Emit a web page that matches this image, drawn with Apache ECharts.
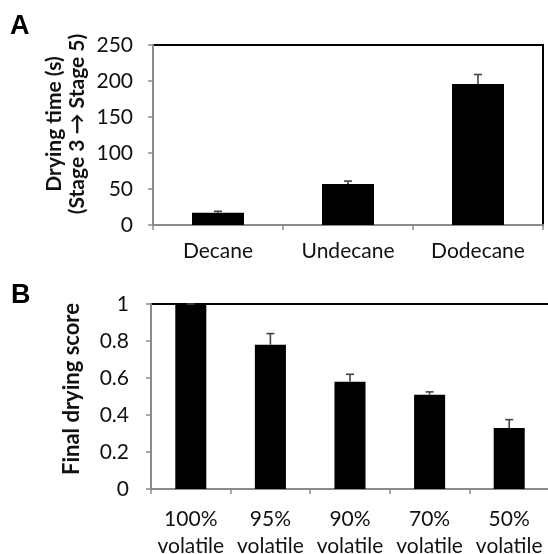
<!DOCTYPE html>
<html>
<head>
<meta charset="utf-8">
<script src="https://cdn.jsdelivr.net/npm/echarts@6/dist/echarts.min.js"></script>
<style>
  html, body { margin: 0; padding: 0; background: #fff; }
  #main { width: 548px; height: 554px; }
</style>
</head>
<body>
<div id="main"></div>
<script>
// panel A - drying time per solvent
var solvents = ['Decane', 'Undecane', 'Dodecane']
var dryingTime = [17, 57, 196]
var dryingErr = [2, 4, 13]
var timeTicks = [0, 50, 100, 150, 200, 250]

// panel B - final drying score per volatile fraction
var mixes = ['100%\nvolatile', '95%\nvolatile', '90%\nvolatile', '70%\nvolatile', '50%\nvolatile']
var dryScore = [1.0, 0.78, 0.58, 0.51, 0.33]
var dryErr = [0, 0.06, 0.04, 0.015, 0.045]
var scoreTicks = [0, 0.2, 0.4, 0.6, 0.8, 1]

var FONT = 'Lato'
var AXIS_GRAY = '#8a8a8a'

// only the upper whisker shows above a black bar
function errorBars(errs) {
  return function (params, api) {
    var i = api.value(0)
    var v = api.value(1)
    var top = api.coord([i, v + errs[i]])
    var base = api.coord([i, v])
    var half = 4
    var style = { stroke: '#444', lineWidth: 1.6 }
    return {
      type: 'group',
      children: [
        { type: 'line', shape: { x1: base[0], y1: base[1], x2: top[0], y2: top[1] }, style: style },
        { type: 'line', shape: { x1: top[0] - half, y1: top[1], x2: top[0] + half, y2: top[1] }, style: style }
      ]
    }
  }
}

function yAx(gridIndex, ticks, margin) {
  return {
    type: 'value',
    gridIndex: gridIndex,
    min: ticks[0],
    max: ticks[ticks.length - 1],
    interval: ticks[1] - ticks[0],
    axisLine: { show: true, lineStyle: { color: AXIS_GRAY, width: 2 } },
    axisTick: { show: true, length: 5, lineStyle: { color: AXIS_GRAY, width: 1.5 } },
    splitLine: { show: false },
    axisLabel: { color: '#111', fontFamily: FONT, fontSize: 21, margin: margin }
  }
}

function xAx(gridIndex, cats, margin, lh) {
  return {
    type: 'category',
    gridIndex: gridIndex,
    data: cats,
    axisLine: { show: true, lineStyle: { color: AXIS_GRAY, width: 2 } },
    axisTick: { show: true, length: 5, lineStyle: { color: AXIS_GRAY, width: 1.5 } },
    axisLabel: { color: '#111', fontFamily: FONT, fontSize: 21, margin: margin, lineHeight: lh, interval: 0 }
  }
}

var chart = echarts.init(document.getElementById('main'), null, { renderer: 'canvas' })
chart.setOption({
  animation: false,
  backgroundColor: '#fff',
  grid: [
    { left: 153, top: 45, width: 390, height: 180, show: true, borderColor: '#000', borderWidth: 2, outerBoundsMode: 'none' },
    { left: 151, top: 304, width: 398, height: 185, show: true, borderColor: '#000', borderWidth: 2, outerBoundsMode: 'none' }
  ],
  xAxis: [xAx(0, solvents, 14, 24), xAx(1, mixes, 17, 27)],
  yAxis: [yAx(0, timeTicks, 20), yAx(1, scoreTicks, 22)],
  graphic: [
    { type: 'text', left: 10, top: 13, style: { text: 'A', font: 'bold 27px "Liberation Sans"', fill: '#000' } },
    { type: 'text', left: 11, top: 282, style: { text: 'B', font: 'bold 27px "Liberation Sans"', fill: '#000' } },
    {
      type: 'text', x: 66, y: 124, rotation: Math.PI / 2,
      style: {
        text: 'Drying time (s)\n(Stage 3 \u2192 Stage 5)',
        font: 'bold 21px ' + FONT, fill: '#111',
        align: 'center', verticalAlign: 'middle', lineHeight: 23
      }
    },
    {
      type: 'text', x: 72, y: 389, rotation: Math.PI / 2,
      style: {
        text: 'Final drying score',
        font: 'bold 22px ' + FONT, fill: '#111',
        align: 'center', verticalAlign: 'middle'
      }
    }
  ],
  series: [
    {
      type: 'bar', xAxisIndex: 0, yAxisIndex: 0, data: dryingTime,
      barWidth: '40%', itemStyle: { color: '#000' }
    },
    {
      type: 'custom', xAxisIndex: 0, yAxisIndex: 0, z: 3,
      renderItem: errorBars(dryingErr),
      data: dryingTime.map(function (v, i) { return [i, v] })
    },
    {
      type: 'bar', xAxisIndex: 1, yAxisIndex: 1, data: dryScore,
      barWidth: '39%', itemStyle: { color: '#000' }
    },
    {
      type: 'custom', xAxisIndex: 1, yAxisIndex: 1, z: 3,
      renderItem: errorBars(dryErr),
      data: dryScore.map(function (v, i) { return [i, v] })
    }
  ]
})
</script>
</body>
</html>
